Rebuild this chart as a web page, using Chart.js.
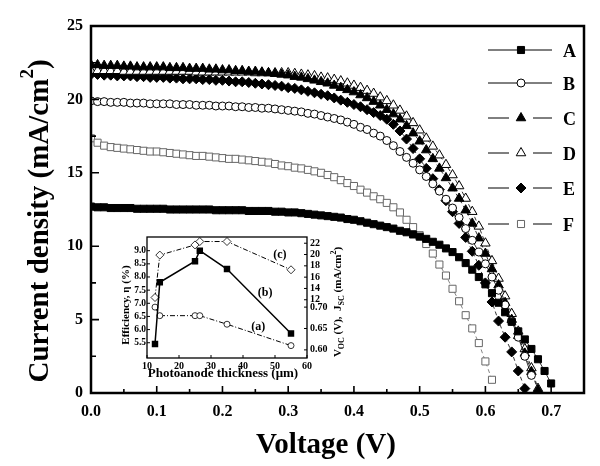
<!DOCTYPE html>
<html>
<head>
<meta charset="utf-8">
<script src="https://cdn.jsdelivr.net/npm/chart.js@4.4.0/dist/chart.umd.min.js"></script>
<style>
body{margin:0;background:#fff}
#wrap{position:relative;width:600px;height:466px}
#main{position:absolute;left:0;top:0}
#inset{position:absolute;left:100px;top:225px}
</style>
</head>
<body>
<div id="wrap">
<canvas id="main" width="600" height="466"></canvas>
<canvas id="inset" width="250" height="160"></canvas>
</div>
<script>
// voltage sweep (V)
var volts = [0.00,0.01,0.02,0.03,0.04,0.05,0.06,0.07,0.08,0.09,
  0.10,0.11,0.12,0.13,0.14,0.15,0.16,0.17,0.18,0.19,
  0.20,0.21,0.22,0.23,0.24,0.25,0.26,0.27,0.28,0.29,
  0.30,0.31,0.32,0.33,0.34,0.35,0.36,0.37,0.38,0.39,
  0.40,0.41,0.42,0.43,0.44,0.45,0.46,0.47,0.48,0.49,
  0.50,0.51,0.52,0.53,0.54,0.55,0.56,0.57,0.58,0.59,
  0.60,0.61,0.62,0.63,0.64,0.65,0.66,0.67,0.68,0.69,0.70];

// current density (mA/cm2), one value per voltage step
var curA = [12.7,12.65,12.65,12.6,12.6,12.6,12.6,12.55,12.55,12.55,
  12.55,12.55,12.5,12.5,12.5,12.5,12.5,12.5,12.5,12.45,
  12.45,12.45,12.45,12.45,12.4,12.4,12.4,12.4,12.35,12.35,
  12.3,12.3,12.25,12.2,12.15,12.1,12.05,12.0,11.95,11.85,
  11.8,11.7,11.6,11.5,11.4,11.3,11.2,11.05,10.95,10.8,
  10.65,10.5,10.3,10.1,9.85,9.6,9.25,8.85,8.4,7.9,
  7.4,6.8,6.15,5.5,4.85,4.2,3.65,3.0,2.3,1.5,0.65];
var curB = [19.9,19.85,19.85,19.8,19.8,19.8,19.75,19.75,19.75,19.7,
  19.7,19.7,19.7,19.65,19.65,19.65,19.6,19.6,19.6,19.55,
  19.55,19.55,19.5,19.5,19.45,19.45,19.4,19.4,19.35,19.3,
  19.25,19.2,19.15,19.05,19.0,18.9,18.8,18.7,18.6,18.45,
  18.3,18.1,17.95,17.7,17.5,17.2,16.85,16.45,16.05,15.65,
  15.2,14.75,14.25,13.75,13.2,12.6,11.95,11.2,10.4,9.6,
  8.8,7.9,7.0,6.0,4.9,3.8,2.5,1.2];
var curC = [22.35,22.35,22.3,22.3,22.3,22.25,22.25,22.2,22.2,22.2,
  22.2,22.2,22.15,22.15,22.15,22.1,22.1,22.1,22.05,22.05,
  22.0,22.0,21.95,21.95,21.9,21.9,21.85,21.8,21.75,21.7,
  21.65,21.55,21.5,21.4,21.3,21.2,21.1,20.95,20.8,20.65,
  20.5,20.3,20.1,19.85,19.6,19.3,19.0,18.65,18.2,17.7,
  17.15,16.55,15.95,15.3,14.65,13.95,13.25,12.45,11.55,10.55,
  9.5,8.45,7.35,6.15,5.0,3.9,2.7,1.45,0.2];
var curD = [21.95,21.95,21.95,21.95,21.95,21.9,21.9,21.9,21.9,21.9,
  21.9,21.9,21.9,21.9,21.9,21.9,21.85,21.85,21.85,21.85,
  21.85,21.85,21.85,21.85,21.85,21.8,21.8,21.8,21.8,21.8,
  21.8,21.75,21.7,21.65,21.6,21.5,21.45,21.35,21.25,21.1,
  20.95,20.8,20.6,20.4,20.15,19.9,19.6,19.25,18.85,18.4,
  17.9,17.35,16.8,16.2,15.55,14.85,14.1,13.25,12.35,11.35,
  10.2,9.0,7.8,6.6,5.4,4.2,3.0,1.7,0.3];
var curE = [21.7,21.7,21.65,21.65,21.6,21.6,21.6,21.55,21.55,21.5,
  21.5,21.5,21.45,21.45,21.4,21.4,21.4,21.35,21.35,21.3,
  21.3,21.25,21.2,21.2,21.15,21.1,21.05,21.0,20.95,20.9,
  20.8,20.75,20.65,20.55,20.45,20.35,20.25,20.1,19.95,19.8,
  19.65,19.5,19.3,19.1,18.9,18.65,18.3,17.85,17.3,16.65,
  15.95,15.3,14.6,13.85,13.1,12.35,11.55,10.6,9.65,8.7,
  7.5,6.2,4.9,3.8,2.8,1.5,0.3];
var curF = [17.35,17.05,16.85,16.75,16.7,16.65,16.6,16.55,16.5,16.45,
  16.45,16.4,16.35,16.3,16.25,16.2,16.15,16.15,16.1,16.05,
  16.0,15.95,15.95,15.9,15.85,15.8,15.75,15.7,15.6,15.5,
  15.45,15.35,15.3,15.2,15.1,15.0,14.85,14.7,14.5,14.3,
  14.1,13.85,13.65,13.4,13.2,12.95,12.65,12.3,11.8,11.3,
  10.75,10.15,9.5,8.75,8.0,7.1,6.25,5.3,4.4,3.4,
  2.15,0.9];

var seriesNames = ["A","B","C","D","E","F"];
var xTickVals = [0.0,0.1,0.2,0.3,0.4,0.5,0.6,0.7];
var yTickVals = [0,5,10,15,20,25];

// inset data
var thick = [12.5,14,25,26.5,35,55];
var effic = [5.45,7.8,8.6,9.0,8.3,5.85];     // (b)
var voc   = [0.70,0.68,0.68,0.68,0.66,0.61]; // (a)
var jsc   = [12.4,19.9,21.7,22.3,22.3,17.3]; // (c)
var insetXTicks = [10,20,30,40,50,60];
var effTicks = [5.5,6.0,6.5,7.0,7.5,8.0,8.5,9.0];
var jscTicks = [12,14,16,18,20,22];
var vocTicks = [0.60,0.65,0.70];

var FONT = '"Liberation Serif", "Times New Roman", serif';

function pts(ys){ return ys.map(function(y,i){ return {x: volts[i], y: y}; }); }

var looks = [
  {style:'rect',    r:5,   fill:'#000', edge:'#000', dash:[]},
  {style:'circle',  r:4,   fill:'#fff', edge:'#000', dash:[]},
  {style:'triangle',r:5.5, fill:'#000', edge:'#000', dash:[4,3]},
  {style:'triangle',r:5.5, fill:'#fff', edge:'#000', dash:[4,3]},
  {style:'rectRot', r:5,   fill:'#000', edge:'#000', dash:[4,3]},
  {style:'rect',    r:5,   fill:'#fff', edge:'#666', dash:[4,3]}
];
var allCur = [curA,curB,curC,curD,curE,curF];

var datasets = allCur.map(function(c,i){
  var l = looks[i];
  return {
    label: seriesNames[i],
    data: pts(c),
    showLine: true,
    borderColor: i==5 ? '#666' : '#000',
    borderWidth: 0.8,
    borderDash: l.dash,
    pointStyle: l.style,
    pointRadius: l.r,
    pointBackgroundColor: l.fill,
    pointBorderColor: l.edge,
    pointBorderWidth: 1
  };
});

function drawSegs(ctx, segs, cx, cy, rot){
  ctx.save();
  ctx.translate(cx, cy);
  if (rot) ctx.rotate(rot);
  ctx.textBaseline = 'alphabetic';
  ctx.textAlign = 'left';
  var total = 0;
  segs.forEach(function(s){ ctx.font = 'bold ' + s[1] + 'px ' + FONT; total += ctx.measureText(s[0]).width; });
  var xx = -total/2;
  segs.forEach(function(s){
    ctx.font = 'bold ' + s[1] + 'px ' + FONT;
    ctx.fillText(s[0], xx, s[2]);
    xx += ctx.measureText(s[0]).width;
  });
  ctx.restore();
}

function drawMarker(ctx, l, x, y){
  ctx.save();
  ctx.fillStyle = l.fill; ctx.strokeStyle = l.edge; ctx.lineWidth = 1;
  Chart.helpers.drawPoint(ctx, {pointStyle: l.style, radius: l.r, rotation: 0, borderWidth: 1}, x, y);
  ctx.restore();
}

var mainDeco = {
  id: 'mainDeco',
  afterDraw: function(chart){
    var ctx = chart.ctx, a = chart.chartArea, sx = chart.scales.x, sy = chart.scales.y;
    ctx.save();
    ctx.strokeStyle = '#000';
    ctx.lineWidth = 1.6;
    ctx.beginPath();
    for (var v = 0.05; v < 0.749; v += 0.05) {
      var px = sx.getPixelForValue(v);
      var major = Math.abs(v*10 - Math.round(v*10)) < 0.01;
      ctx.moveTo(px, a.bottom); ctx.lineTo(px, a.bottom - (major ? 7 : 4));
    }
    for (var w = 2.5; w < 25; w += 2.5) {
      var py = sy.getPixelForValue(w);
      var maj = (w % 5) === 0;
      ctx.moveTo(a.left, py); ctx.lineTo(a.left + (maj ? 8 : 5), py);
    }
    ctx.stroke();
    ctx.lineWidth = 2.5;
    ctx.strokeRect(a.left, a.top, a.right - a.left, a.bottom - a.top);

    // legend
    var rows = [50,83,118,153,188,224];
    ctx.fillStyle = '#000';
    rows.forEach(function(ry, i){
      var l = looks[i];
      ctx.strokeStyle = '#000'; ctx.lineWidth = 1;
      ctx.beginPath();
      if (i < 2) { ctx.moveTo(488, ry); ctx.lineTo(552, ry); }
      else { ctx.moveTo(488, ry); ctx.lineTo(509, ry); ctx.moveTo(533, ry); ctx.lineTo(552, ry); }
      ctx.stroke();
      drawMarker(ctx, l, 521, ry);
      ctx.fillStyle = '#000';
      ctx.font = 'bold 18px ' + FONT;
      ctx.textAlign = 'left'; ctx.textBaseline = 'middle';
      ctx.fillText(seriesNames[i], 563, ry + 2);
    });

    ctx.fillStyle = '#000';
    drawSegs(ctx, [['Current density (mA/cm',29,0],['2',19,-15],[')',29,0]], 48, 221, -Math.PI/2);
    drawSegs(ctx, [['Voltage (V)',29,0]], 326, 453, 0);
    ctx.restore();
  }
};

new Chart(document.getElementById('main'), {
  type: 'scatter',
  data: { datasets: datasets },
  options: {
    responsive: false,
    animation: false,
    devicePixelRatio: 1,
    layout: { padding: { top: 26, right: 16, left: 0, bottom: 0 } },
    plugins: { legend: { display: false }, tooltip: { enabled: false } },
    scales: {
      x: {
        type: 'linear', min: 0, max: 0.75,
        grid: { display: false, drawTicks: false }, border: { display: false },
        afterBuildTicks: function(s){ s.ticks = xTickVals.map(function(v){ return {value: v}; }); },
        afterFit: function(s){ s.height = 73; },
        ticks: { color: '#000', padding: 9, font: { family: FONT, size: 16, weight: 'bold' },
          callback: function(v){ return Number(v).toFixed(1); } }
      },
      y: {
        type: 'linear', min: 0, max: 25,
        grid: { display: false, drawTicks: false }, border: { display: false },
        afterBuildTicks: function(s){ s.ticks = yTickVals.map(function(v){ return {value: v}; }); },
        afterFit: function(s){ s.width = 91; },
        ticks: { color: '#000', padding: 8, font: { family: FONT, size: 16, weight: 'bold' } }
      }
    }
  },
  plugins: [mainDeco]
});

// ---------- inset ----------
var J_MIN = 1.7, J_MAX = 23.1, V_MIN = 0.581, V_MAX = 0.864;
var rightTicks = jscTicks.map(function(v){ return {v: v, label: String(v)}; })
  .concat(vocTicks.map(function(v){ return {v: J_MIN + (v - V_MIN)/(V_MAX - V_MIN)*(J_MAX - J_MIN), label: v.toFixed(2)}; }));

function tp(ys){ return ys.map(function(y,i){ return {x: thick[i], y: y}; }); }

var insetDeco = {
  id: 'insetDeco',
  beforeDatasetsDraw: function(chart){
    var ctx = chart.ctx, a = chart.chartArea;
    ctx.save(); ctx.fillStyle = '#fff';
    ctx.fillRect(a.left, a.top, a.right - a.left, a.bottom - a.top);
    ctx.restore();
  },
  afterDraw: function(chart){
    var ctx = chart.ctx, a = chart.chartArea, s = chart.scales;
    ctx.save();
    ctx.strokeStyle = '#000'; ctx.lineWidth = 1;
    ctx.beginPath();
    insetXTicks.forEach(function(v){ var px = s.x.getPixelForValue(v); ctx.moveTo(px, a.bottom); ctx.lineTo(px, a.bottom - 3); });
    effTicks.forEach(function(v){ var py = s.ye.getPixelForValue(v); ctx.moveTo(a.left, py); ctx.lineTo(a.left + 3, py); });
    rightTicks.forEach(function(t){ var py = s.yj.getPixelForValue(t.v); ctx.moveTo(a.right, py); ctx.lineTo(a.right - 3, py); });
    ctx.stroke();
    ctx.lineWidth = 1.3;
    ctx.strokeRect(a.left, a.top, a.right - a.left, a.bottom - a.top);

    ctx.fillStyle = '#000';
    ctx.font = 'bold 12px ' + FONT; ctx.textAlign = 'center'; ctx.textBaseline = 'middle';
    ctx.fillText('(c)', s.x.getPixelForValue(51.5), s.ye.getPixelForValue(8.83));
    ctx.fillText('(b)', s.x.getPixelForValue(46.9), s.ye.getPixelForValue(7.38));
    ctx.fillText('(a)', s.x.getPixelForValue(44.8), s.ye.getPixelForValue(6.11));

    drawSegs(ctx, [['Photoanode thickness (\u03bcm)',13,0]], (a.left + a.right)/2 - 4, 152, 0);
    drawSegs(ctx, [['Efficiency, \u03b7 (%)',11,0]], 29, 80, -Math.PI/2);
    drawSegs(ctx, [['V',11,0],['OC',8,3],[' (V),  J',11,0],['SC',8,3],[' (mA/cm',11,0],['2',8,-5],[')',11,0]], 241, 77, -Math.PI/2);
    ctx.restore();
  }
};

new Chart(document.getElementById('inset'), {
  type: 'scatter',
  data: { datasets: [
    { label: '(b)', data: tp(effic), yAxisID: 'ye', showLine: true, borderColor: '#000', borderWidth: 1.5,
      pointStyle: 'rect', pointRadius: 3.5, pointBackgroundColor: '#000', pointBorderColor: '#000' },
    { label: '(a)', data: tp(voc), yAxisID: 'yv', showLine: true, borderColor: '#000', borderWidth: 1,
      borderDash: [5,2,1,2], pointStyle: 'circle', pointRadius: 3, pointBackgroundColor: '#fff', pointBorderColor: '#000', pointBorderWidth: 0.8 },
    { label: '(c)', data: tp(jsc), yAxisID: 'yj', showLine: true, borderColor: '#000', borderWidth: 1,
      borderDash: [5,2,1,2], pointStyle: 'rectRot', pointRadius: 4, pointBackgroundColor: '#fff', pointBorderColor: '#000', pointBorderWidth: 0.8 }
  ]},
  options: {
    responsive: false,
    animation: false,
    devicePixelRatio: 1,
    layout: { padding: { top: 12, right: 0, left: 0, bottom: 0 } },
    plugins: { legend: { display: false }, tooltip: { enabled: false } },
    scales: {
      x: {
        type: 'linear', min: 10, max: 60,
        grid: { display: false, drawTicks: false }, border: { display: false },
        afterBuildTicks: function(s){ s.ticks = insetXTicks.map(function(v){ return {value: v}; }); },
        afterFit: function(s){ s.height = 27; },
        ticks: { color: '#000', padding: 2, autoSkip: false, maxRotation: 0, font: { family: FONT, size: 10, weight: 'bold' } }
      },
      ye: {
        type: 'linear', position: 'left', min: 4.92, max: 9.52,
        grid: { display: false, drawTicks: false }, border: { display: false },
        afterBuildTicks: function(s){ s.ticks = effTicks.map(function(v){ return {value: v}; }); },
        afterFit: function(s){ s.width = 47; },
        ticks: { color: '#000', padding: 1, autoSkip: false, font: { family: FONT, size: 9.5, weight: 'bold' },
          callback: function(v){ return Number(v).toFixed(1); } }
      },
      yj: {
        type: 'linear', position: 'right', min: J_MIN, max: J_MAX,
        grid: { display: false, drawTicks: false }, border: { display: false },
        afterBuildTicks: function(s){ s.ticks = rightTicks.map(function(t){ return {value: t.v}; }); },
        afterFit: function(s){ s.width = 43; },
        ticks: { color: '#000', padding: 3, autoSkip: false, font: { family: FONT, size: 10, weight: 'bold' },
          callback: function(v, i){ return rightTicks[i].label; } }
      },
      yv: { type: 'linear', display: false, min: V_MIN, max: V_MAX }
    }
  },
  plugins: [insetDeco]
});
</script>
</body>
</html>
